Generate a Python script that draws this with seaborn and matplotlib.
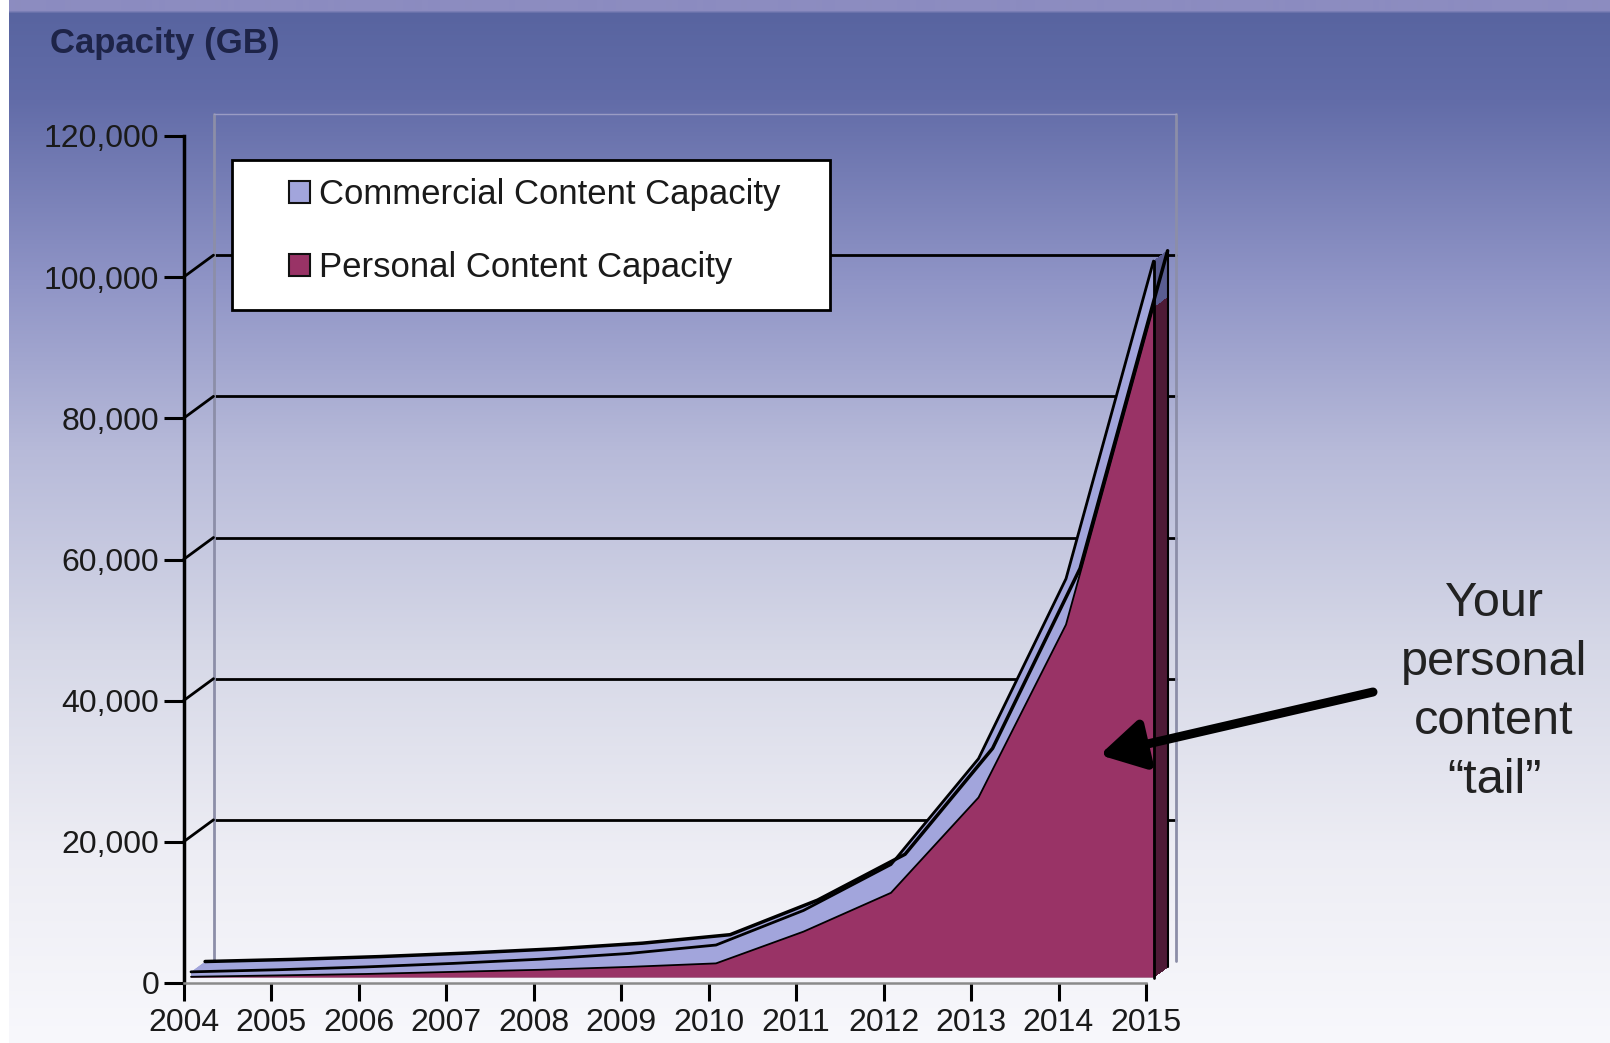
import numpy as np
import matplotlib
matplotlib.use("Agg")
import matplotlib.pyplot as plt
import matplotlib.transforms as mtransforms
from matplotlib.patches import Patch, Rectangle
import seaborn as sns

# ---------------- data ----------------
years = [2004, 2005, 2006, 2007, 2008, 2009, 2010, 2011, 2012, 2013, 2014, 2015]
personal = [100, 300, 500, 800, 1100, 1500, 2000, 6500, 12000, 25500, 50000, 95000]
commercial = [700, 800, 1000, 1200, 1500, 1900, 2600, 3000, 4000, 5500, 6500, 6500]
y_ticks = [0, 20000, 40000, 60000, 80000, 100000, 120000]
y_tick_labels = ["0", "20,000", "40,000", "60,000", "80,000", "100,000", "120,000"]
x_tick_labels = [str(y) for y in years]
series_labels = ["Commercial Content Capacity", "Personal Content Capacity"]
y_title = "Capacity (GB)"
note_text = "Your\npersonal\ncontent\n\u201ctail\u201d"

total = [p + c for p, c in zip(personal, commercial)]

# ---------------- style ----------------
W, H, DPI = 1610, 1043, 100
sns.set_theme(style="white")
plt.rcParams["font.family"] = ["Liberation Sans", "DejaVu Sans"]

MAROON = "#993366"
MAROON_SIDE = "#4e1a36"
LAVENDER = "#a2a5dc"
LAVENDER_SIDE = "#5a5d92"
TXT = "#1a1a1a"

fig = plt.figure(figsize=(W / DPI, H / DPI), dpi=DPI)

# background gradient
bg = fig.add_axes([9 / W, 0, 1 - 9 / W, 1], zorder=0)
stops_y = [0, 10, 13, 100, 280, 450, 650, 850, 1043]
stops_c = [(140, 140, 192), (140, 140, 192), (88, 100, 160), (98, 108, 168),
           (143, 148, 198), (183, 186, 217), (214, 216, 231), (237, 237, 244),
           (248, 248, 252)]
rows = np.arange(H)
grad = np.stack([np.interp(rows, stops_y, [c[i] for c in stops_c]) for i in range(3)],
                axis=-1) / 255.0
bg.imshow(grad[:, None, :], aspect="auto", extent=[0, 1, 0, 1], interpolation="bilinear")
bg.set_axis_off()

# main axes
x0, x1, yb, yt = 183.5, 1146, 983, 136
ax = fig.add_axes([x0 / W, 1 - yb / H, (x1 - x0) / W, (yb - yt) / H], zorder=1)
ax.set_facecolor("none")
ax.set_xlim(years[0], years[-1])
ax.set_ylim(y_ticks[0], y_ticks[-1])

DX, DY = 30, 22  # 3D depth offset in pixels


def shifted(f):
    return mtransforms.offset_copy(ax.transData, fig=fig, x=f * DX, y=f * DY, units="dots")


back = shifted(1.0)
# back wall
for v in y_ticks[1:-1]:
    ax.plot([years[0], years[-1]], [v, v], transform=back, color="black", lw=2,
            clip_on=False, zorder=1)
for xx in (years[0], years[-1]):
    ax.plot([xx, xx], [y_ticks[0], y_ticks[-1]], transform=back, color="#8c8ea8",
            lw=2, clip_on=False, zorder=1)
ax.plot([years[0], years[-1]], [y_ticks[-1]] * 2, transform=back, color="#9a9cc4",
        lw=1, clip_on=False, zorder=1)
# left wall diagonals
for v in y_ticks[1:-1]:
    ax.annotate("", xy=(years[0], v), xytext=(DX, DY), textcoords="offset pixels",
                arrowprops=dict(arrowstyle="-", color="black", lw=2, shrinkA=0, shrinkB=0),
                annotation_clip=False, zorder=1)

# 3D sweep of the stacked area (back to front)
F_FRONT, F_BACK = 0.25, 0.72
for f in np.linspace(F_BACK, F_FRONT, 48)[:-1]:
    tr = shifted(f)
    c1 = ax.fill_between(years, 0, personal, facecolor=MAROON_SIDE,
                         edgecolor="none", lw=0, clip_on=False, zorder=3)
    c1.set_transform(tr)
    c2 = ax.fill_between(years, personal, total, facecolor=LAVENDER,
                         edgecolor="none", lw=0, clip_on=False, zorder=3)
    c2.set_transform(tr)
    # right-hand side face of the last year
    ax.plot([years[-1]] * 2, [0, personal[-1]], transform=tr, color=MAROON_SIDE,
            lw=1.2, solid_capstyle="butt", clip_on=False, zorder=3.5)
    ax.plot([years[-1]] * 2, [personal[-1], total[-1]], transform=tr,
            color=LAVENDER_SIDE, lw=1.2, solid_capstyle="butt", clip_on=False, zorder=3.5)

front = shifted(F_FRONT)
c3 = ax.fill_between(years, 0, personal, facecolor=MAROON, edgecolor="none",
                     lw=0, clip_on=False, zorder=4)
c3.set_transform(front)
c4 = ax.fill_between(years, personal, total, facecolor=LAVENDER,
                     edgecolor="none", lw=0, clip_on=False, zorder=4)
c4.set_transform(front)

# edges
sns.lineplot(x=years, y=total, ax=ax, color="black", lw=2.5, transform=shifted(F_BACK),
             clip_on=False, zorder=5, legend=False)
sns.lineplot(x=years, y=total, ax=ax, color="black", lw=2, transform=front,
             clip_on=False, zorder=5, legend=False)
sns.lineplot(x=years, y=personal, ax=ax, color="black", lw=1.3, transform=front,
             clip_on=False, zorder=5, legend=False)
ax.plot([years[-1], years[-1]], [0, total[-1]], transform=front, color="black", lw=2,
        clip_on=False, zorder=5)
ax.plot([years[-1], years[-1]], [0, total[-1]], transform=shifted(F_BACK), color="black",
        lw=1.5, clip_on=False, zorder=5)

# axes cosmetics
ax.set_xlim(years[0], years[-1])
ax.set_ylim(y_ticks[0], y_ticks[-1])
ax.set_xticks(years)
ax.set_xticklabels(x_tick_labels)
ax.set_yticks(y_ticks)
ax.set_yticklabels(y_tick_labels)
ax.set_xlabel("")
ax.set_ylabel("")
ax.tick_params(axis="y", left=True, length=14.5, width=2.2, direction="out", pad=3,
               labelsize=23, labelcolor=TXT, color="black")
ax.tick_params(axis="x", bottom=True, length=13, width=2.2, direction="out", pad=5,
               labelsize=23, labelcolor=TXT, color="black")
for s in ("top", "right"):
    ax.spines[s].set_visible(False)
ax.spines["left"].set_color("black")
ax.spines["left"].set_linewidth(2.5)
ax.spines["bottom"].set_color("#8a8a8a")
ax.spines["bottom"].set_linewidth(1.8)
ax.grid(False)

# y title
fig.text(50 / W, 1 - 43 / H, y_title, fontsize=25, fontweight="bold", color="#1e2448",
         va="center", ha="left")

# legend
fig.add_artist(Rectangle((232 / W, 1 - 310 / H), 598 / W, 150 / H, transform=fig.transFigure,
                         facecolor="white", edgecolor="black", lw=2, zorder=5))
handles = [Patch(facecolor=LAVENDER, edgecolor="#111111", lw=1.5, label=series_labels[0]),
           Patch(facecolor=MAROON, edgecolor="#111111", lw=1.5, label=series_labels[1])]
leg = fig.legend(handles=handles, loc="upper left", bbox_to_anchor=(289 / W, 1 - 178 / H),
                 bbox_transform=fig.transFigure, frameon=False, fontsize=25,
                 handlelength=0.6, handleheight=0.6, handletextpad=0.25,
                 labelspacing=1.15, borderpad=0, borderaxespad=0)
leg.set_zorder(6)
for t in leg.get_texts():
    t.set_color(TXT)

# annotation
fig.text(1494 / W, 1 - 692 / H, note_text, ha="center", va="center", fontsize=35,
         linespacing=1.4, color="#222222")
ax.annotate("", xy=(2014.47, 32300), xycoords="data",
            xytext=(1373 / W, 1 - 692 / H), textcoords="figure fraction",
            arrowprops=dict(arrowstyle="-|>,head_length=0.7,head_width=0.4",
                            color="black", lw=6.5, mutation_scale=38,
                            shrinkA=0, shrinkB=0),
            annotation_clip=False, zorder=10)

fig.savefig("out.png", dpi=DPI)
